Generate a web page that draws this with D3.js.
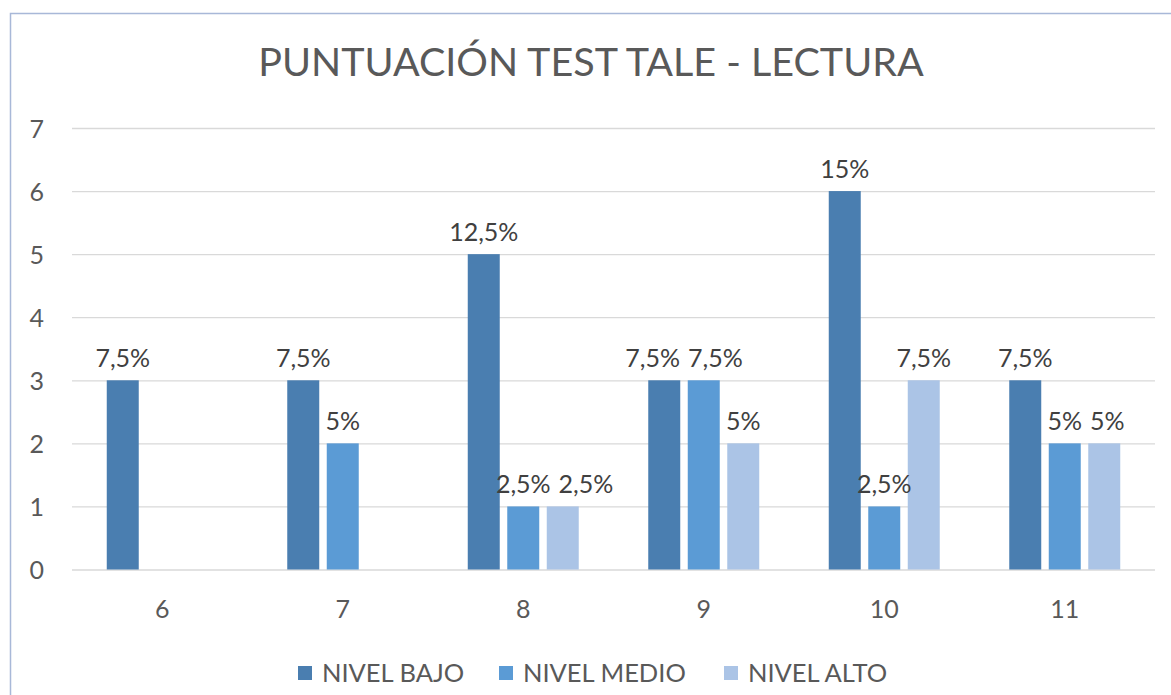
<!DOCTYPE html>
<html>
<head>
<meta charset="utf-8">
<script src="https://cdn.jsdelivr.net/npm/d3@7"></script>
<style>
  html, body { margin: 0; padding: 0; background: #ffffff; }
  svg { display: block; }
</style>
</head>
<body>
<svg id="chart" width="1171" height="695"></svg>
<script>
// ---- data ----
const categories = ["6", "7", "8", "9", "10", "11"];
const seriesNames = ["NIVEL BAJO", "NIVEL MEDIO", "NIVEL ALTO"];
const nivelBajo  = [3, 3, 5, 3, 6, 3];
const nivelMedio = [0, 2, 1, 3, 1, 2];
const nivelAlto  = [0, 0, 1, 2, 3, 2];
const bajoLabels  = ["7,5%", "7,5%", "12,5%", "7,5%", "15%", "7,5%"];
const medioLabels = ["", "5%", "2,5%", "7,5%", "2,5%", "5%"];
const altoLabels  = ["", "", "2,5%", "5%", "7,5%", "5%"];
const yTickValues = [0, 1, 2, 3, 4, 5, 6, 7];
const titleText = "PUNTUACIÓN TEST TALE - LECTURA";

const seriesValues = [nivelBajo, nivelMedio, nivelAlto];
const seriesLabels = [bajoLabels, medioLabels, altoLabels];
const colors = ["#4a7eb0", "#5b9bd5", "#abc4e6"];

const FONT = "Lato, 'Open Sans', sans-serif";
const svg = d3.select("#chart");

// outer frame (only top and left edges visible)
svg.append("rect")
  .attr("x", 10.5).attr("y", 13.5)
  .attr("width", 1300).attr("height", 800)
  .attr("fill", "#ffffff")
  .attr("stroke", "#a8b8d8").attr("stroke-width", 1.5);

const plotLeft = 72, plotRight = 1155, plotTop = 128, plotBottom = 569.5;

const x0 = d3.scaleBand().domain(categories).range([plotLeft, plotRight]).padding(0);
const groupW = 118.5;
const x1 = d3.scaleBand().domain(seriesNames)
  .range([(x0.bandwidth() - groupW) / 2, (x0.bandwidth() + groupW) / 2])
  .paddingInner(0.19).paddingOuter(0.095);
const y = d3.scaleLinear().domain([0, 7]).range([plotBottom, plotTop]);

// gridlines + y labels
const yAxis = d3.axisLeft(y).tickValues(yTickValues).tickFormat(d3.format("d"))
  .tickSize(-(plotRight - plotLeft)).tickPadding(28);
const gy = svg.append("g").attr("transform", `translate(${plotLeft},0)`).call(yAxis);
gy.select(".domain").remove();
gy.selectAll(".tick line").attr("stroke", "#d9d9d9").attr("stroke-width", 1.3);
gy.selectAll(".tick text")
  .attr("fill", "#595959").attr("font-family", FONT).attr("font-size", 25)
  .attr("dy", "0.36em");

// x axis labels
const xAxis = d3.axisBottom(x0).tickSize(0).tickPadding(0);
const gx = svg.append("g").attr("transform", `translate(0,${plotBottom})`).call(xAxis);
gx.select(".domain").remove();
gx.selectAll(".tick text")
  .attr("fill", "#595959").attr("font-family", FONT).attr("font-size", 25)
  .attr("dy", null).attr("y", 48);

// bars
const barData = [];
categories.forEach((c, ci) => {
  seriesNames.forEach((s, si) => {
    barData.push({ cat: c, ci, series: s, si, value: seriesValues[si][ci], label: seriesLabels[si][ci] });
  });
});

svg.append("g").selectAll("rect")
  .data(barData.filter(d => d.value > 0))
  .join("rect")
  .attr("x", d => x0(d.cat) + x1(d.series))
  .attr("y", d => y(d.value))
  .attr("width", x1.bandwidth())
  .attr("height", d => y(0) - y(d.value))
  .attr("fill", d => colors[d.si]);

// value labels
const lg = svg.append("g");
const labelNodes = lg.selectAll("text")
  .data(barData.filter(d => d.value > 0 && d.label))
  .join("text")
  .attr("text-anchor", "middle")
  .attr("font-family", FONT).attr("font-size", 25)
  .attr("fill", "#404040")
  .text(d => d.label);

labelNodes.each(function(d) {
  d.lx = x0(d.cat) + x1(d.series) + x1.bandwidth() / 2;
  d.ly = y(d.value) - 13;
  d.w = this.getComputedTextLength();
});
// overlap avoidance inside each category: spread apart, but do not push a
// label leftwards into a taller neighbouring bar
const GAP = 8;
categories.forEach(c => {
  const items = labelNodes.data().filter(d => d.cat === c).sort((a, b) => a.lx - b.lx);
  for (let i = 0; i < items.length - 1; i++) {
    const a = items[i], b = items[i + 1];
    if (Math.abs(a.ly - b.ly) < 18) {
      const gap = (b.lx - b.w / 2) - (a.lx + a.w / 2);
      if (gap < GAP) {
        const need = GAP - gap;
        const leftBlocked = a.si > 0 && seriesValues[a.si - 1][a.ci] > a.value;
        if (leftBlocked) { b.lx += need; }
        else { a.lx -= need / 2; b.lx += need / 2; }
      }
    }
  }
});
labelNodes.attr("x", d => d.lx).attr("y", d => d.ly);

// title
svg.append("text")
  .attr("x", 591).attr("y", 76)
  .attr("text-anchor", "middle")
  .attr("font-family", FONT).attr("font-size", 39.5)
  .attr("fill", "#595959")
  .text(titleText);

// legend
const legendX = [298, 499, 724];
const legend = svg.append("g");
seriesNames.forEach((s, i) => {
  const g = legend.append("g").attr("transform", `translate(${legendX[i]},673)`);
  g.append("rect").attr("x", 0).attr("y", -7).attr("width", 14).attr("height", 14).attr("fill", colors[i]);
  g.append("text").attr("x", 24).attr("y", 0).attr("dy", "0.36em")
    .attr("font-family", FONT).attr("font-size", 25.5).attr("fill", "#595959")
    .text(s);
});
</script>
</body>
</html>
